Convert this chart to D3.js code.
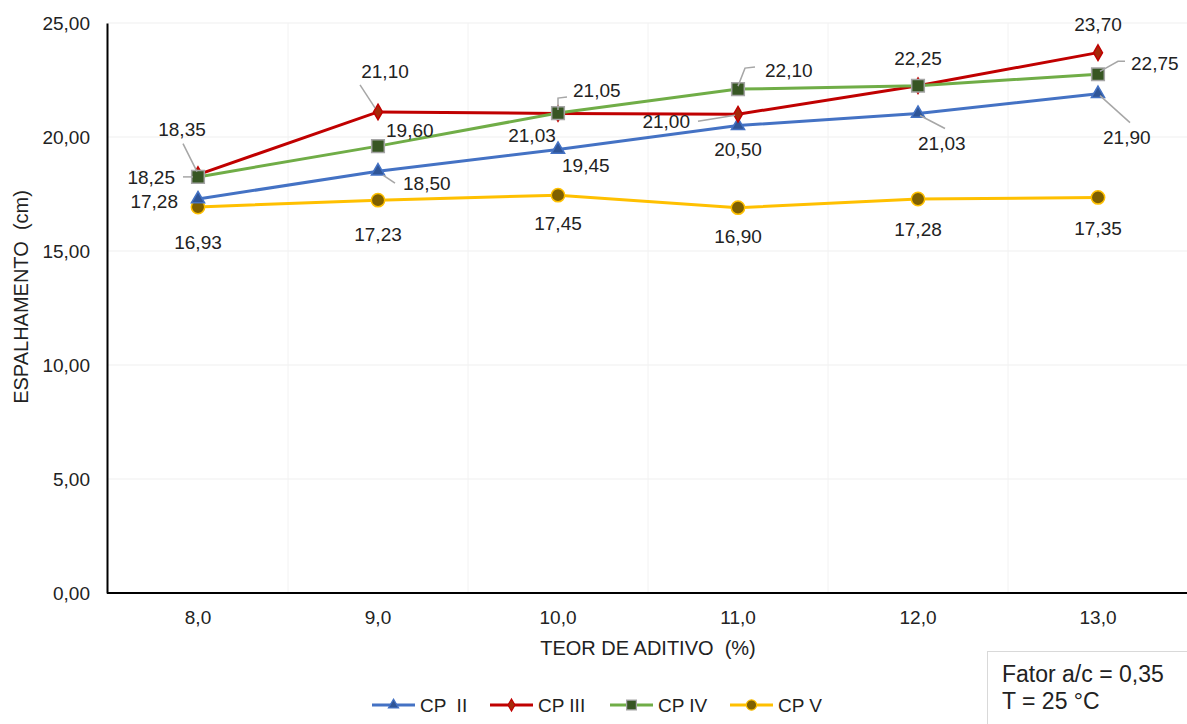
<!DOCTYPE html>
<html><head><meta charset="utf-8">
<script src="https://cdn.jsdelivr.net/npm/d3@7"></script>
<style>body{margin:0;background:#fff}svg{display:block;font-family:"Liberation Sans",Arial,sans-serif}svg text{white-space:pre}</style>
</head><body><svg id="c" width="1187" height="724"></svg>
<script>
const categories = ["8,0","9,0","10,0","11,0","12,0","13,0"];
const cp2 = [17.28,18.50,19.45,20.50,21.03,21.90];
const cp3 = [18.35,21.10,21.03,21.00,22.25,23.70];
const cp4 = [18.25,19.60,21.05,22.10,22.25,22.75];
const cp5 = [16.93,17.23,17.45,16.90,17.28,17.35];
const yTicks = [0,5,10,15,20,25];
const seriesNames = ["CP  II","CP III","CP IV","CP V"];

// label layout: [dx, dy, anchor, leader points relative to marker] (null = hidden)
const lab2 = [[-20,2,"end",null],[25,12,"start",[[5,4],[17,12]]],[4,16,"start",null],[0,24,"middle",null],[0,30,"start",[[2,2],[27,15]]],[5,44,"start",[[2,2],[32,29]]]];
const lab3 = [[-16,-45,"middle",[[-15,-31],[-1,-3]]],[7,-41,"middle",[[-18,-27],[-3,-4]]],[-26,22,"middle",null],[-48,7,"end",[[-40,7],[-3,1]]],null,[0,-28,"middle",null]];
const lab4 = [[-23,0,"end",[[-15,0],[-5,0]]],[8,-16,"start",null],[15,-23,"start",[[0,-3],[0,-15],[9,-16]]],[27,-19,"start",[[0,-3],[7,-21],[17,-22]]],[0,-27,"middle",null],[33,-11,"start",[[2,-3],[20,-13],[27,-13]]]];
const lab5 = [[0,35,"middle",null],[0,34,"middle",null],[0,28,"middle",null],[0,29,"middle",null],[0,30,"middle",null],[0,31,"middle",null]];

const svg = d3.select("#c");
const fmt = v => v.toFixed(2).replace(".", ",");
const x = d3.scaleBand().domain(categories).range([108,1188]).padding(0);
const cx = c => x(c) + x.bandwidth()/2;
const y = d3.scaleLinear().domain([0,25]).range([593,23]);

// gridlines
svg.append("g").selectAll("line").data(yTicks.slice(1)).join("line")
  .attr("x1",108).attr("x2",1187).attr("y1",d=>y(d)).attr("y2",d=>y(d))
  .attr("stroke","#efefef").attr("stroke-width",1);
svg.append("g").selectAll("line").data(categories.slice(1)).join("line")
  .attr("x1",d=>x(d)).attr("x2",d=>x(d)).attr("y1",23).attr("y2",593)
  .attr("stroke","#f2f2f2").attr("stroke-width",1);

// axes
const yAxis = d3.axisLeft(y).tickValues(yTicks).tickFormat(fmt).tickSize(0).tickPadding(17);
const gy = svg.append("g").attr("transform","translate(107,0)").call(yAxis);
gy.select(".domain").attr("stroke","#000").attr("stroke-width",2);
gy.selectAll("text").attr("font-size",19).attr("fill","#222").attr("font-family","Liberation Sans, Arial");
const xAxis = d3.axisBottom(x).tickSize(0).tickPadding(18);
const gx = svg.append("g").attr("transform","translate(0,593)").call(xAxis);
gx.select(".domain").attr("stroke","#000").attr("stroke-width",2).attr("d","M107,0H1187");
gx.selectAll("text").attr("font-size",19).attr("fill","#222").attr("font-family","Liberation Sans, Arial");

svg.append("text").attr("x",648).attr("y",655).attr("text-anchor","middle").attr("font-size",20).attr("fill","#222").text("TEOR DE ADITIVO  (%)");
svg.append("text").attr("transform","translate(28,297) rotate(-90)").attr("text-anchor","middle").attr("font-size",20).attr("fill","#222").text("ESPALHAMENTO  (cm)");

const series = [
  {name:seriesNames[0], vals:cp2, line:"#4472C4", fill:"#2F5597", stroke:"#4472C4", shape:d3.symbolTriangle, size:75, labs:lab2},
  {name:seriesNames[1], vals:cp3, line:"#C00000", fill:"#A52A0A", stroke:"#C00000", shape:d3.symbolDiamond, size:70, labs:lab3},
  {name:seriesNames[2], vals:cp4, line:"#70AD47", fill:"#375623", stroke:"#A5A5A5", shape:d3.symbolSquare, size:160, labs:lab4},
  {name:seriesNames[3], vals:cp5, line:"#FFC000", fill:"#7F6000", stroke:"#FFC000", shape:d3.symbolCircle, size:140, labs:lab5}
];
const lineGen = d3.line().x((d,i)=>cx(categories[i])).y(d=>y(d));
const drawOrder = [3,0,1,2];
drawOrder.forEach(k=>{
  const s = series[k];
  svg.append("path").attr("d",lineGen(s.vals)).attr("fill","none").attr("stroke",s.line).attr("stroke-width",3);
});
drawOrder.forEach(k=>{
  const s = series[k];
  svg.append("g").selectAll("path").data(s.vals).join("path")
    .attr("transform",(d,i)=>`translate(${cx(categories[i])},${y(d)})`)
    .attr("d",d3.symbol().type(s.shape).size(s.size))
    .attr("fill",s.fill).attr("stroke",s.stroke).attr("stroke-width",1.5);
});
// labels
series.forEach(s=>{
  s.vals.forEach((v,i)=>{
    const L = s.labs[i]; if(!L) return;
    const px = cx(categories[i]), py = y(v);
    if(L[3]) svg.append("polyline").attr("points",L[3].map(p=>`${px+p[0]},${py+p[1]}`).join(" "))
      .attr("fill","none").attr("stroke","#a6a6a6").attr("stroke-width",1.5);
    svg.append("text").attr("x",px+L[0]).attr("y",py+L[1]).attr("dy","0.35em")
      .attr("text-anchor",L[2]).attr("font-size",19).attr("fill","#222").text(fmt(v));
  });
});

// legend
const lx = [372,490,610,730];
series.forEach((s,k)=>{
  const g = svg.append("g").attr("transform",`translate(${lx[k]},705)`);
  g.append("line").attr("x1",0).attr("x2",43).attr("stroke",s.line).attr("stroke-width",3);
  g.append("path").attr("transform","translate(21.5,0)").attr("d",d3.symbol().type(s.shape).size(s.size*0.6))
    .attr("fill",s.fill).attr("stroke",s.stroke).attr("stroke-width",1.2);
  g.append("text").attr("x",48).attr("dy","0.35em").attr("font-size",19).attr("fill","#222").text(s.name);
});

// note box
svg.append("rect").attr("x",987.5).attr("y",651.5).attr("width",210).attr("height",80).attr("fill","#fff").attr("stroke","#d9d9d9");
svg.append("text").attr("x",1002).attr("y",682).attr("font-size",23).attr("fill","#222").text("Fator a/c = 0,35");
svg.append("text").attr("x",1002).attr("y",709).attr("font-size",23).attr("fill","#222").text("T = 25 °C");
</script></body></html>
